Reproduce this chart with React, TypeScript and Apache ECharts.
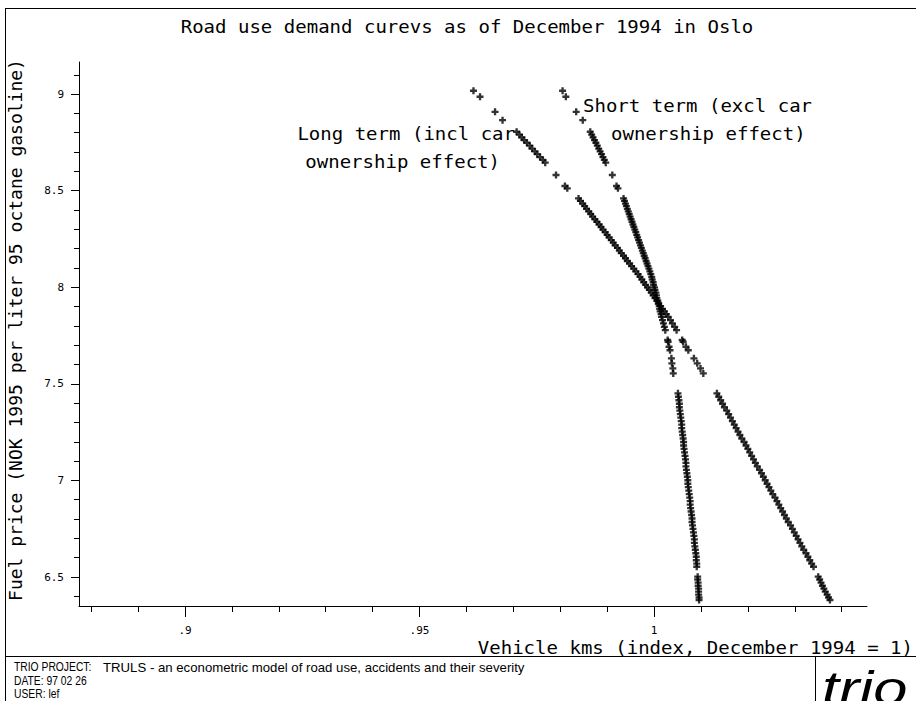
import React, { useEffect, useRef } from "react";
import * as echarts from "echarts";

// Shared fuel price levels (NOK per liter) at which demand was evaluated
const prices = [
  9.017, 8.986, 8.908, 8.865,
  8.805, 8.79, 8.776, 8.762, 8.748, 8.733, 8.718, 8.703, 8.689, 8.674, 8.659, 8.645,
  8.581, 8.524, 8.512,
  8.46, 8.447, 8.433, 8.42, 8.406, 8.393, 8.379, 8.366, 8.352, 8.339, 8.325, 8.312, 8.298, 8.285, 8.271, 8.258,
  8.244, 8.231, 8.217, 8.204, 8.19, 8.177, 8.163, 8.15, 8.136, 8.123, 8.109, 8.096, 8.082, 8.068, 8.054,
  8.04, 8.026, 8.012, 7.999, 7.986, 7.972, 7.958, 7.944, 7.93, 7.916, 7.902, 7.888, 7.875, 7.861, 7.847,
  7.83, 7.813, 7.795, 7.778, 7.727, 7.718, 7.692, 7.674, 7.632, 7.606, 7.58, 7.554,
  7.451, 7.433, 7.415, 7.397, 7.379, 7.361, 7.343, 7.325, 7.307, 7.289, 7.271, 7.253, 7.235, 7.217, 7.199,
  7.181, 7.163, 7.145, 7.127, 7.109, 7.091, 7.073, 7.055, 7.037, 7.019, 7.001, 6.983, 6.965, 6.947, 6.929,
  6.911, 6.893, 6.875, 6.857, 6.839, 6.821, 6.803, 6.785, 6.767, 6.749, 6.731, 6.713, 6.695, 6.677, 6.659,
  6.641, 6.623, 6.605, 6.587, 6.569, 6.553,
  6.502, 6.487, 6.471, 6.455, 6.44, 6.424, 6.409, 6.394, 6.381,
];

// Long term (incl car ownership effect) vehicle kms index
const longTermKms = [
  0.9615, 0.9629, 0.9661, 0.9677,
  0.9707, 0.9713, 0.9718, 0.9723, 0.9729, 0.9735, 0.974, 0.9746, 0.9751, 0.9757, 0.9763, 0.9768,
  0.9791, 0.981, 0.9815,
  0.9839, 0.9843, 0.9848, 0.9852, 0.9856, 0.9861, 0.9865, 0.9869, 0.9874, 0.9878, 0.9883, 0.9887, 0.9891, 0.9896, 0.99, 0.9904,
  0.9909, 0.9913, 0.9917, 0.9922, 0.9926, 0.993, 0.9935, 0.9939, 0.9943, 0.9948, 0.9952, 0.9957, 0.9961, 0.9966, 0.997,
  0.9974, 0.9978, 0.9982, 0.9986, 0.999, 0.9994, 0.9998, 1.0002, 1.0006, 1.001, 1.0014, 1.0018, 1.0022, 1.0026, 1.003,
  1.0035, 1.0039, 1.0044, 1.0048, 1.006, 1.0062, 1.0068, 1.0073, 1.0085, 1.0092, 1.0099, 1.0105,
  1.0134, 1.0138, 1.0142, 1.0146, 1.015, 1.0155, 1.0159, 1.0163, 1.0167, 1.0171, 1.0175, 1.0179, 1.0183, 1.0187, 1.0192,
  1.0196, 1.02, 1.0204, 1.0208, 1.0212, 1.0216, 1.022, 1.0225, 1.0229, 1.0233, 1.0237, 1.0241, 1.0245, 1.0249, 1.0253,
  1.0258, 1.0262, 1.0266, 1.027, 1.0274, 1.0278, 1.0282, 1.0286, 1.0291, 1.0295, 1.0299, 1.0303, 1.0307, 1.0311, 1.0315,
  1.0319, 1.0324, 1.0328, 1.0332, 1.0336, 1.034,
  1.035, 1.0353, 1.0356, 1.0359, 1.0362, 1.0365, 1.0369, 1.0372, 1.0375,
];

// Short term (excl car ownership effect) vehicle kms index
const shortTermKms = [
  0.9805, 0.9812, 0.9834, 0.9848,
  0.9864, 0.9867, 0.987, 0.9873, 0.9876, 0.9879, 0.9882, 0.9885, 0.9888, 0.9891, 0.9894, 0.9897,
  0.9911, 0.992, 0.9923,
  0.9935, 0.9937, 0.9939, 0.9941, 0.9943, 0.9945, 0.9947, 0.9949, 0.9951, 0.9953, 0.9955, 0.9957, 0.9959, 0.9961, 0.9963, 0.9965,
  0.9967, 0.9969, 0.9971, 0.9973, 0.9975, 0.9977, 0.9979, 0.9981, 0.9983, 0.9985, 0.9987, 0.9989, 0.9991, 0.9993, 0.9995,
  0.9996, 0.9998, 0.9999, 1.0001, 1.0002, 1.0004, 1.0005, 1.0006, 1.0008, 1.0009, 1.0011, 1.0012, 1.0013, 1.0015, 1.0016,
  1.0018, 1.002, 1.0022, 1.0024, 1.0029, 1.003, 1.0032, 1.0034, 1.0037, 1.0038, 1.004, 1.0041,
  1.0051, 1.0052, 1.0053, 1.0054, 1.0054, 1.0055, 1.0056, 1.0057, 1.0058, 1.0059, 1.0059, 1.006, 1.0061, 1.0062, 1.0063,
  1.0063, 1.0064, 1.0065, 1.0066, 1.0067, 1.0068, 1.0068, 1.0069, 1.007, 1.0071, 1.0072, 1.0072, 1.0073, 1.0074, 1.0075,
  1.0076, 1.0077, 1.0077, 1.0078, 1.0079, 1.008, 1.0081, 1.0081, 1.0082, 1.0083, 1.0084, 1.0085, 1.0086, 1.0086, 1.0087,
  1.0088, 1.0089, 1.009, 1.009, 1.0091, 1.0091,
  1.0093, 1.0093, 1.0094, 1.0094, 1.0095, 1.0095, 1.0095, 1.0096, 1.0096,
];

const xMinorTicks = [0.88, 0.89, 0.9, 0.91, 0.92, 0.93, 0.94, 0.95, 0.96, 0.97, 0.98, 0.99, 1.0, 1.01, 1.02, 1.03, 1.04];
const xMajorTicks = [0.9, 0.95, 1.0];
const yMinorTicks = [
  6.4, 6.5, 6.6, 6.7, 6.8, 6.9, 7.0, 7.1, 7.2, 7.3, 7.4, 7.5, 7.6, 7.7,
  7.8, 7.9, 8.0, 8.1, 8.2, 8.3, 8.4, 8.5, 8.6, 8.7, 8.8, 8.9, 9.0, 9.1,
];
const yMajorTicks = [6.5, 7, 7.5, 8, 8.5, 9];

const titleText = "Road use demand curevs as of December 1994 in Oslo";
const xTitle = "Vehicle kms (index, December 1994 = 1)";
const yTitle = "Fuel price (NOK 1995 per liter 95 octane gasoline)";
const shortLabel = ["Short term (excl car", "ownership effect)"];
const longLabel = ["Long term (incl car", "ownership effect)"];
const footerLines = [
  ["TRIO PROJECT:", "TRULS - an econometric model of road use, accidents and their severity"],
  ["DATE: 97 02 26", ""],
  ["USER: lef", ""],
];

const MONO = "'DejaVu Sans Mono', monospace";
const SANS = "'Liberation Sans', Arial, sans-serif";
const X_MIN = 0.8774;
const X_MAX = 1.0454;
const Y_MIN = 6.35;
const Y_MAX = 9.166;
const plusSymbol = "path://M2,0H4V2H6V4H4V6H2V4H0V2H2Z";

function fmtX(v: number) {
  const s = String(Math.round(v * 100) / 100);
  return s.startsWith("0.") ? s.slice(1) : s;
}

function hershey(text: string, x: number, y: number, align: string, extra: any = {}) {
  return {
    type: "text",
    x,
    y,
    scaleX: 1.12,
    silent: true,
    ...extra,
    style: {
      text,
      font: `17px ${MONO}`,
      fill: "#000",
      align,
      textAlign: align,
      verticalAlign: "middle",
      textVerticalAlign: "middle",
    },
  };
}

function sansText(text: string, x: number, y: number, size: number, scaleX: number) {
  return {
    type: "text",
    x,
    y,
    scaleX,
    silent: true,
    style: {
      text,
      font: `${size}px ${SANS}`,
      fill: "#000",
      align: "left",
      textAlign: "left",
      verticalAlign: "middle",
      textVerticalAlign: "middle",
    },
  };
}

function line(x1: number, y1: number, x2: number, y2: number) {
  return {
    type: "line",
    silent: true,
    shape: { x1, y1, x2, y2 },
    style: { stroke: "#000", lineWidth: 1 },
  };
}

export default function App() {
  const ref = useRef<HTMLDivElement>(null);

  useEffect(() => {
    if (!ref.current) return;
    const chart = echarts.init(ref.current, null, { renderer: "svg" });

    const longData = prices.map((p, i) => [longTermKms[i], p]);
    const shortData = prices.map((p, i) => [shortTermKms[i], p]);

    const baseX = {
      type: "value",
      min: X_MIN,
      max: X_MAX,
      position: "bottom",
      offset: 0,
      splitLine: { show: false },
    };
    const baseY = {
      type: "value",
      min: Y_MIN,
      max: Y_MAX,
      position: "left",
      offset: 0,
      splitLine: { show: false },
    };

    const footerGraphics: any[] = [];
    footerLines.forEach((row, i) => {
      const y = 667 + i * 13.5;
      footerGraphics.push(sansText(row[0], 14, y, 12, 0.86));
      if (row[1]) footerGraphics.push(sansText(row[1], 103, y, 13.2, 1));
    });

    chart.setOption({
      animation: false,
      backgroundColor: "#fff",
      grid: { left: 79, right: 49, top: 62, bottom: 95, containLabel: false },
      xAxis: [
        {
          ...baseX,
          axisLine: { show: true, onZero: false, lineStyle: { color: "#000", width: 1 } },
          axisTick: { show: true, customValues: xMinorTicks, length: 6, lineStyle: { color: "#000" } },
          axisLabel: { show: false },
        },
        {
          ...baseX,
          axisLine: { show: false, onZero: false },
          axisTick: { show: true, customValues: xMajorTicks, length: 11, lineStyle: { color: "#000" } },
          axisLabel: {
            show: true,
            customValues: xMajorTicks,
            formatter: (v: number) => fmtX(v),
            margin: 19,
            color: "#000",
            fontFamily: MONO,
            fontSize: 11,
          },
        },
      ],
      yAxis: [
        {
          ...baseY,
          axisLine: { show: true, onZero: false, lineStyle: { color: "#000", width: 1 } },
          axisTick: { show: true, customValues: yMinorTicks, length: 5, lineStyle: { color: "#000" } },
          axisLabel: { show: false },
        },
        {
          ...baseY,
          axisLine: { show: false, onZero: false },
          axisTick: { show: true, customValues: yMajorTicks, length: 8, lineStyle: { color: "#000" } },
          axisLabel: {
            show: true,
            customValues: yMajorTicks,
            formatter: (v: number) => String(v),
            margin: 15,
            color: "#000",
            fontFamily: MONO,
            fontSize: 11,
          },
        },
      ],
      series: [
        {
          name: "Long term (incl car ownership effect)",
          type: "scatter",
          xAxisIndex: 0,
          yAxisIndex: 0,
          data: longData,
          symbol: plusSymbol,
          symbolSize: 7,
          itemStyle: { color: "#000" },
          silent: true,
        },
        {
          name: "Short term (excl car ownership effect)",
          type: "scatter",
          xAxisIndex: 0,
          yAxisIndex: 0,
          data: shortData,
          symbol: plusSymbol,
          symbolSize: 7,
          itemStyle: { color: "#000" },
          silent: true,
        },
      ],
      graphic: {
        elements: [
          line(5, 8.5, 916, 8.5),
          line(5.5, 8, 5.5, 701),
          line(5, 656.5, 916, 656.5),
          line(815.5, 656, 815.5, 701),
          hershey(titleText, 467, 27, "center"),
          hershey(xTitle, 913, 648, "right"),
          hershey(yTitle, 16, 330, "center", { rotation: Math.PI / 2, scaleX: 1.06 }),
          hershey(shortLabel[0], 583, 106, "left"),
          hershey(shortLabel[1], 611, 134, "left"),
          hershey(longLabel[0], 515, 134, "right"),
          hershey(longLabel[1], 500, 162, "right"),
          ...footerGraphics,
          {
            type: "text",
            x: 822,
            y: 712,
            scaleX: 1.28,
            silent: true,
            style: {
              text: "trio",
              font: `italic 48px ${SANS}`,
              fill: "#000",
              align: "left",
              textAlign: "left",
              verticalAlign: "bottom",
              textVerticalAlign: "bottom",
            },
          },
        ],
      },
    });

    return () => chart.dispose();
  }, []);

  return (
    <div
      ref={ref}
      style={{ position: "fixed", left: 0, top: 0, width: 916, height: 701, background: "#fff" }}
    />
  );
}
